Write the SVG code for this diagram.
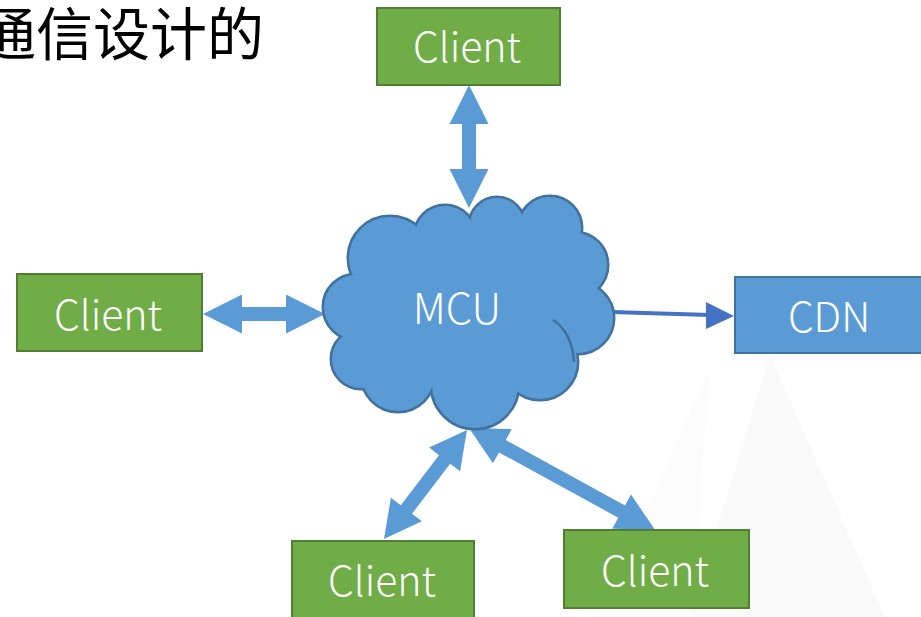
<svg xmlns="http://www.w3.org/2000/svg" width="921" height="617" viewBox="0 0 921 617">
<style>
.client rect{fill:#70AD47;stroke:#507E32;stroke-width:2}
.lbl{font-family:"Noto Sans CJK SC","Noto Sans",sans-serif;font-weight:300;fill:#ffffff;text-anchor:middle}
.darr{fill:#5B9BD5}
.cl{fill:#5B9BD5}
</style>
<rect width="921" height="617" fill="#ffffff"/>
<polygon points="770,355 690,617 885,617" fill="#fafafa"/>
<polygon points="710,368 600,617 690,617" fill="#fcfcfc"/>
<text x="-21" y="55" font-family="'Noto Sans CJK SC','Noto Sans',sans-serif" font-size="57" font-weight="400" fill="#000000">通信设计的</text>
<g id="connectors">
<polygon class="darr" transform="translate(469,85) rotate(90)" points="0,0 39,-19.5 39,-7 84,-7 84,-19.5 123,0 84,19.5 84,7 39,7 39,19.5"/>
<polygon class="darr" transform="translate(203,314)" points="0,0 39,-19.5 39,-7 83,-7 83,-19.5 122,0 83,19.5 83,7 39,7 39,19.5"/>
<polygon class="darr" transform="translate(467,430) rotate(127.3)" points="0,0 37,-19.5 37,-7 100,-7 100,-19.5 137,0 100,19.5 100,7 37,7 37,19.5"/>
<polygon class="darr" transform="translate(469,428) rotate(28.7)" points="0,0 38,-19.5 38,-7 174,-7 174,-19.5 212,0 174,19.5 174,7 38,7 38,19.5"/>
<line x1="612" y1="312" x2="710" y2="315" stroke="#4472C4" stroke-width="4"/>
<polygon points="706,302 734,316 706,329" fill="#4472C4"/>
</g>
<g id="mcu">
<g fill="#5B9BD5" stroke="#41719C" stroke-width="5">
<circle cx="390" cy="258" r="41"/>
<circle cx="445" cy="236" r="30"/>
<circle cx="497" cy="225" r="27"/>
<circle cx="550" cy="228" r="31"/>
<circle cx="575" cy="265" r="32"/>
<circle cx="578" cy="318" r="35"/>
<circle cx="540" cy="362" r="37"/>
<circle cx="475" cy="385" r="43"/>
<circle cx="398" cy="375" r="36"/>
<circle cx="361" cy="359" r="29"/>
<circle cx="356" cy="307" r="32"/>
</g>
<g class="cl">
<circle cx="390" cy="258" r="41"/>
<circle cx="445" cy="236" r="30"/>
<circle cx="497" cy="225" r="27"/>
<circle cx="550" cy="228" r="31"/>
<circle cx="575" cy="265" r="32"/>
<circle cx="578" cy="318" r="35"/>
<circle cx="540" cy="362" r="37"/>
<circle cx="475" cy="385" r="43"/>
<circle cx="398" cy="375" r="36"/>
<circle cx="361" cy="359" r="29"/>
<circle cx="356" cy="307" r="32"/>
<polygon points="390,258 445,236 497,225 550,228 575,265 578,318 540,362 475,385 398,375 361,359 356,307"/>
</g>
<path d="M553,320 Q572,332 574,362" fill="none" stroke="#41719C" stroke-width="2.5"/>
<text class="lbl" x="457" y="324" font-size="42">MCU</text>
</g>
<g id="client-top" class="client"><rect x="377" y="8" width="183" height="77"/><text class="lbl" x="467" y="62" font-size="41">Client</text></g>
<g id="client-left" class="client"><rect x="17" y="274" width="185" height="77"/><text class="lbl" x="108" y="330" font-size="41">Client</text></g>
<g id="client-bl" class="client"><rect x="292" y="541" width="182" height="80"/><text class="lbl" x="382" y="596" font-size="41">Client</text></g>
<g id="client-br" class="client"><rect x="564" y="530" width="185" height="78"/><text class="lbl" x="655" y="586" font-size="41">Client</text></g>
<g id="cdn"><rect x="735" y="277" width="190" height="76" fill="#5B9BD5" stroke="#41719C" stroke-width="2"/><text class="lbl" x="829" y="332" font-size="41">CDN</text></g>
</svg>
